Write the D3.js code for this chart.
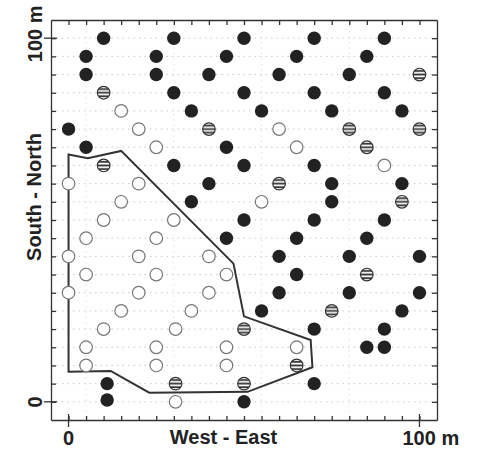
<html>
<head>
<script src="https://d3js.org/d3.v7.min.js" charset="utf-8"></script>
<style>
  body { margin: 0; background: #fff; }
  text { font-family: "Liberation Sans", Arial, sans-serif; font-weight: bold; fill: #222; }
</style>
</head>
<body>
<script>
// tree positions in metres (x = west-east, y = south-north)
var filledTrees = [
  [10,100],[30,100],[50,100],[70,100],[90,100],
  [5,95],[25,95],[45,95],[65,95],[85,95],
  [5,90],[25,90],[40,90],[60,90],[80,90],
  [30,85],[50,85],[70,85],[90,85],
  [35,80],[55,80],[75,80],[95,80],
  [0,75],
  [5,70],[45,70],
  [30,65],[50,65],[70,65],
  [40,60],[75,60],[95,60],
  [35,55],[75,55],
  [50,50],[70,50],[90,50],
  [45,45],[65,45],[85,45],
  [60,40],[80,40],[100,40],
  [65,35],
  [60,30],[80,30],[100,30],
  [55,25],[95,25],
  [70,20],[90,20],
  [85,15],[90,15],
  [11,5],[70,5],
  [11,0.5],[50,0]
];
var openTrees = [
  [15,80],
  [20,75],[60,75],
  [25,70],[65,70],
  [90,65],
  [0,60],[20,60],
  [15,55],[55,55],
  [10,50],[30,50],
  [5,45],[25,45],
  [0,40],[20,40],[40,40],
  [5,35],[25,35],[45,35],
  [0,30],[20,30],[40,30],
  [15,25],[35,25],
  [10,20],[30.5,20],
  [5,15],[25,15],[45,15],[65,15],
  [5,10],[25,10],[45,10],
  [30.5,0]
];
var stripedTrees = [
  [100,90],
  [10,85],
  [40,75],[80,75],[100,75],
  [85,70],
  [10,65],
  [60,60],
  [95,55],
  [85,35],
  [75,25],
  [50,20],
  [65,10],
  [30.5,5],[50,5]
];
// outline of the plot area
var boundaryX = [0, 5.5, 15, 47, 50, 69, 69.5, 51, 23, 12, 0];
var boundaryY = [68, 67, 69, 38, 23.5, 17, 9.5, 2.75, 2.5, 8.5, 8.3];

var tickValues = d3.range(0, 101, 5);
var gridX = [5, 30, 55, 80];

var width = 480, height = 451;
var svg = d3.select("body").append("svg")
    .attr("width", width)
    .attr("height", height);

var x = d3.scaleLinear().domain([-5, 105]).range([51, 437]);
var y = d3.scaleLinear().domain([-5, 105]).range([420, 20]);

// pattern for the striped trees
var pat = svg.append("defs").append("pattern")
    .attr("id", "stripes")
    .attr("patternUnits", "objectBoundingBox")
    .attr("patternContentUnits", "objectBoundingBox")
    .attr("width", 1).attr("height", 1);
pat.append("rect").attr("width", 1).attr("height", 1).attr("fill", "#fff");
[1, 3, 5].forEach(function(k) {
  pat.append("rect")
      .attr("x", 0).attr("y", k / 7)
      .attr("width", 1).attr("height", 1 / 7)
      .attr("fill", "#333");
});

// dotted grid
svg.append("g").selectAll("line").data(tickValues).enter().append("line")
    .attr("x1", x(-5)).attr("x2", x(105))
    .attr("y1", function(d) { return y(d); })
    .attr("y2", function(d) { return y(d); })
    .attr("stroke", "#c8c8c8")
    .attr("stroke-width", 1)
    .attr("stroke-dasharray", "1.5,4");
svg.append("g").selectAll("line").data(gridX).enter().append("line")
    .attr("x1", function(d) { return x(d); })
    .attr("x2", function(d) { return x(d); })
    .attr("y1", y(105)).attr("y2", y(-5))
    .attr("stroke", "#e0e0e0")
    .attr("stroke-width", 1)
    .attr("stroke-dasharray", "1.5,4");

// frame with inward ticks on all sides
function styleAxis(g) {
  g.selectAll("path, line").attr("stroke", "#333").attr("stroke-width", 1.3);
  g.selectAll("text").remove();
}
svg.append("g").attr("transform", "translate(" + x(-5) + ",0)")
    .call(d3.axisLeft(y).tickValues(tickValues).tickSize(-5).tickSizeOuter(0))
    .call(styleAxis);
svg.append("g").attr("transform", "translate(" + x(105) + ",0)")
    .call(d3.axisRight(y).tickValues(tickValues).tickSize(-5).tickSizeOuter(0))
    .call(styleAxis);
svg.append("g").attr("transform", "translate(0," + y(-5) + ")")
    .call(d3.axisBottom(x).tickValues(tickValues).tickSize(-4).tickSizeOuter(0))
    .call(styleAxis);
svg.append("g").attr("transform", "translate(0," + y(105) + ")")
    .call(d3.axisTop(x).tickValues(tickValues).tickSize(-5).tickSizeOuter(0))
    .call(styleAxis);

// longer ticks at 0 and 100
[0, 100].forEach(function(v) {
  svg.append("line")
      .attr("x1", x(-5) - 7).attr("x2", x(-5) + 6)
      .attr("y1", y(v)).attr("y2", y(v))
      .attr("stroke", "#333").attr("stroke-width", 1.3);
  svg.append("line")
      .attr("x1", x(v)).attr("x2", x(v))
      .attr("y1", y(-5) - 6).attr("y2", y(-5) + 7)
      .attr("stroke", "#333").attr("stroke-width", 1.3);
});

// plot boundary
var boundary = boundaryX.map(function(d, i) { return [d, boundaryY[i]]; });
svg.append("path")
    .attr("d", d3.line().x(function(d) { return x(d[0]); }).y(function(d) { return y(d[1]); })(boundary) + "Z")
    .attr("fill", "none")
    .attr("stroke", "#333")
    .attr("stroke-width", 2)
    .attr("stroke-linejoin", "miter");

var r = 6.7;
svg.append("g").selectAll("circle").data(openTrees).enter().append("circle")
    .attr("cx", function(d) { return x(d[0]); })
    .attr("cy", function(d) { return y(d[1]); })
    .attr("r", r - 0.4)
    .attr("fill", "#fff")
    .attr("stroke", "#777")
    .attr("stroke-width", 1.2);
svg.append("g").selectAll("circle").data(stripedTrees).enter().append("circle")
    .attr("cx", function(d) { return x(d[0]); })
    .attr("cy", function(d) { return y(d[1]); })
    .attr("r", r - 0.4)
    .attr("fill", "url(#stripes)")
    .attr("stroke", "#333")
    .attr("stroke-width", 1.2);
svg.append("g").selectAll("circle").data(filledTrees).enter().append("circle")
    .attr("cx", function(d) { return x(d[0]); })
    .attr("cy", function(d) { return y(d[1]); })
    .attr("r", r)
    .attr("fill", "#222");

// labels
svg.append("text").attr("font-size", 20)
    .attr("transform", "translate(42," + (y(100) + 24) + ") rotate(-90)")
    .attr("text-anchor", "start").text("100 m");
svg.append("text").attr("font-size", 20)
    .attr("transform", "translate(42," + y(0) + ") rotate(-90)")
    .attr("text-anchor", "middle").text("0");
svg.append("text").attr("font-size", 20)
    .attr("transform", "translate(41,197) rotate(-90)")
    .attr("text-anchor", "middle").text("South - North");
svg.append("text").attr("font-size", 20)
    .attr("x", x(0)).attr("y", 445)
    .attr("text-anchor", "middle").text("0");
svg.append("text").attr("font-size", 20)
    .attr("x", 223.5).attr("y", 444)
    .attr("text-anchor", "middle").text("West - East");
svg.append("text").attr("font-size", 20)
    .attr("x", x(100) - 17).attr("y", 445)
    .attr("text-anchor", "start").text("100 m");
</script>
</body>
</html>
